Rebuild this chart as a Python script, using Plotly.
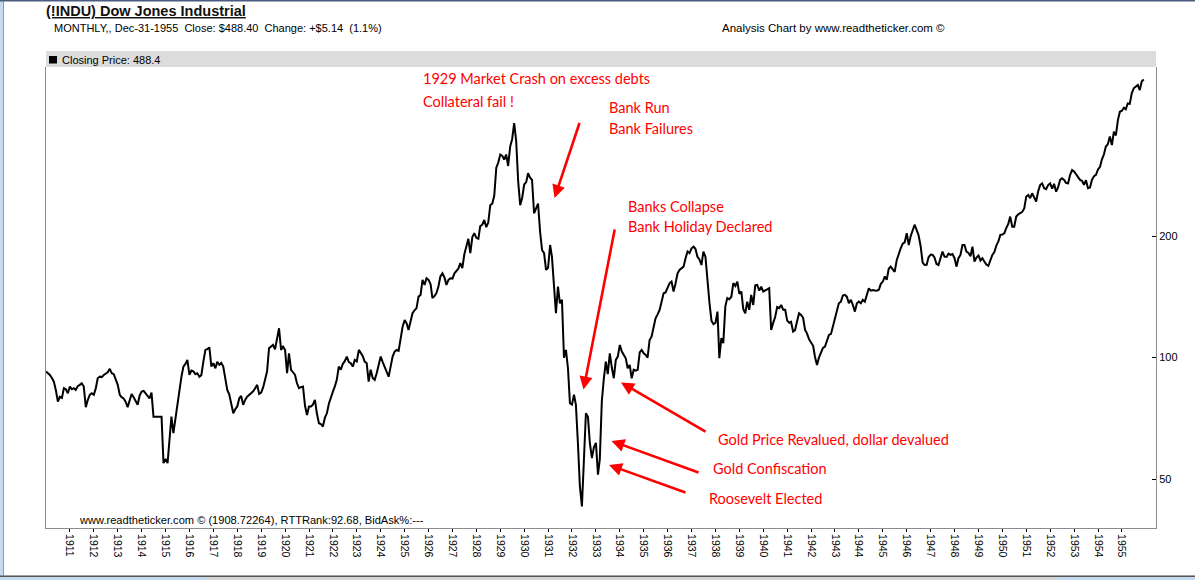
import math
import plotly.graph_objects as go

# ---------------- data: DJIA monthly closes ----------------
y1910 = [92.4, 91.5, 90.6, 89.0, 87.2, 83.0, 77.8, 80.0, 79.5, 84.0, 83.5, 81.6]
y1911 = [84.8, 83.5, 84.0, 83.2, 85.0, 85.6, 86.4, 84.8, 75.4, 78.5, 80.9, 81.6]
y1912 = [80.9, 84.0, 88.9, 89.7, 89.5, 90.6, 91.5, 92.0, 93.8, 91.5, 91.0, 88.5]
y1913 = [85.6, 80.9, 79.8, 79.2, 77.8, 75.4, 78.6, 81.3, 79.8, 78.0, 76.4, 80.5]
y1914 = [82.4, 82.7, 81.5, 80.5, 79.3, 81.9, 71.4, 71.4, 71.4, 71.4, 71.4, 54.8]
y1915 = [56.1, 54.8, 61.0, 71.4, 65.0, 71.0, 77.1, 84.0, 89.7, 95.0, 96.5, 98.7]
y1916 = [90.6, 92.9, 92.5, 91.0, 91.5, 89.7, 90.5, 97.7, 104.5, 105.0, 106.0, 95.0]
y1917 = [96.9, 94.1, 97.7, 96.0, 97.0, 95.0, 89.7, 83.2, 81.0, 76.5, 72.8, 74.5]
y1918 = [75.7, 79.3, 80.4, 76.4, 78.6, 80.0, 80.9, 81.5, 82.5, 84.0, 85.6, 81.3]
y1919 = [81.9, 84.5, 88.5, 92.4, 105.5, 106.5, 107.5, 104.9, 111.0, 118.2, 104.5, 106.5]
y1920 = [104.5, 91.5, 102.5, 93.3, 92.0, 90.6, 86.4, 84.0, 84.5, 84.8, 76.0, 72.1]
y1921 = [75.7, 75.7, 76.5, 78.6, 72.8, 68.8, 68.5, 67.5, 71.0, 72.8, 77.0, 80.0]
y1922 = [82.4, 85.0, 88.1, 95.0, 93.3, 96.5, 98.0, 100.6, 97.5, 96.9, 95.0, 98.7]
y1923 = [97.8, 104.5, 103.0, 101.0, 97.8, 96.9, 87.2, 93.3, 89.0, 88.1, 91.5, 95.5]
y1924 = [100.6, 97.5, 95.0, 92.0, 89.7, 95.0, 100.6, 103.5, 104.5, 104.0, 112.0, 119.3]
y1925 = [123.9, 121.5, 117.1, 122.0, 128.8, 131.0, 132.6, 141.6, 143.0, 155.8, 151.4, 157.3]
y1926 = [155.8, 152.0, 140.4, 142.0, 144.4, 150.0, 158.9, 161.7, 158.0, 151.4, 155.8, 157.3]
y1927 = [157.0, 161.7, 163.3, 166.0, 171.4, 166.5, 180.0, 188.2, 196.9, 181.4, 198.8, 203.4]
y1928 = [198.0, 196.9, 211.7, 213.4, 219.2, 210.4, 216.0, 238.5, 240.6, 252.0, 295.5, 304.1]
y1929 = [318.4, 316.0, 309.4, 318.4, 298.3, 333.2, 347.5, 380.7, 343.5, 273.5, 238.5, 248.5]
y1930 = [268.3, 272.0, 286.2, 279.0, 275.5, 227.8, 234.0, 240.6, 205.0, 184.7, 181.4, 164.9]
y1931 = [167.0, 190.1, 177.8, 146.9, 128.8, 149.9, 136.3, 139.1, 100.0, 104.5, 94.0, 77.1]
y1932 = [76.5, 80.9, 76.4, 61.3, 48.0, 42.8, 55.0, 72.8, 71.4, 61.3, 56.4, 60.0]
y1933 = [61.5, 51.3, 56.0, 78.0, 88.5, 97.7, 91.0, 102.5, 94.5, 88.9, 98.7, 100.6]
y1934 = [107.5, 103.5, 101.6, 99.7, 94.1, 95.9, 88.9, 93.3, 92.8, 93.3, 103.0, 104.5]
y1935 = [102.5, 101.6, 100.0, 110.6, 112.7, 118.0, 125.2, 128.0, 131.3, 137.6, 144.4, 145.0]
y1936 = [149.5, 152.9, 154.3, 145.8, 152.6, 161.7, 164.9, 166.5, 168.0, 176.3, 183.1, 181.4]
y1937 = [186.5, 188.2, 186.0, 177.8, 175.0, 169.6, 183.1, 177.8, 152.0, 137.0, 123.5, 121.0]
y1938 = [121.9, 130.0, 99.7, 111.7, 108.6, 134.0, 140.4, 139.5, 141.5, 152.9, 150.5, 154.3]
y1939 = [143.8, 145.8, 132.0, 128.8, 137.6, 131.3, 143.0, 135.0, 151.0, 151.4, 146.5, 149.9]
y1940 = [145.8, 147.0, 147.5, 148.5, 117.1, 121.9, 126.1, 133.5, 132.6, 135.0, 131.3, 131.3]
y1941 = [123.5, 122.0, 122.7, 116.0, 117.0, 123.1, 128.8, 127.6, 125.5, 117.1, 114.7, 111.0]
y1942 = [109.1, 107.0, 100.5, 95.9, 100.0, 103.5, 105.7, 106.5, 110.0, 113.8, 114.5, 119.4]
y1943 = [126.3, 131.0, 136.3, 137.6, 142.5, 143.0, 141.6, 136.3, 139.0, 135.0, 130.0, 136.3]
y1944 = [137.6, 136.3, 139.0, 137.6, 142.2, 148.5, 146.5, 147.0, 146.7, 146.5, 147.3, 152.3]
y1945 = [154.3, 158.9, 155.8, 166.0, 168.0, 165.0, 163.0, 174.3, 181.4, 186.6, 191.5, 193.0]
y1946 = [203.4, 190.1, 199.6, 206.8, 213.4, 207.1, 201.0, 189.0, 172.0, 169.6, 169.8, 177.2]
y1947 = [180.0, 179.6, 177.0, 170.6, 169.6, 176.3, 183.1, 177.8, 177.5, 181.0, 179.6, 180.5]
y1948 = [176.3, 168.0, 176.3, 179.6, 190.1, 190.1, 183.1, 181.7, 178.3, 188.2, 172.9, 177.0]
y1949 = [179.0, 174.0, 176.3, 173.0, 170.0, 168.8, 174.3, 179.6, 182.5, 189.5, 194.0, 201.4]
y1950 = [201.8, 203.4, 209.3, 214.3, 223.5, 211.0, 211.0, 223.5, 226.4, 227.8, 229.6, 234.2]
y1951 = [250.6, 252.9, 248.3, 255.3, 250.0, 243.6, 257.9, 267.5, 270.0, 262.8, 261.3, 267.5]
y1952 = [270.0, 262.0, 269.5, 257.6, 264.0, 275.5, 278.0, 275.5, 270.6, 270.0, 283.5, 291.5]
y1953 = [289.0, 284.0, 279.0, 275.5, 274.0, 268.0, 275.0, 262.8, 264.0, 275.8, 281.4, 283.5]
y1954 = [292.4, 297.0, 309.4, 318.4, 333.2, 338.0, 353.0, 336.2, 362.8, 355.0, 387.4, 406.4]
y1955 = [408.8, 415.9, 412.0, 426.1, 425.0, 451.4, 464.4, 468.8, 473.6, 459.7, 483.3, 488.4]

yearly = [y1910, y1911, y1912, y1913, y1914, y1915, y1916, y1917, y1918, y1919,
          y1920, y1921, y1922, y1923, y1924, y1925, y1926, y1927, y1928, y1929,
          y1930, y1931, y1932, y1933, y1934, y1935, y1936, y1937, y1938, y1939,
          y1940, y1941, y1942, y1943, y1944, y1945, y1946, y1947, y1948, y1949,
          y1950, y1951, y1952, y1953, y1954, y1955]
first_year = 1910

dates = []
closes = []
for k, vals in enumerate(yearly):
    for m, v in enumerate(vals):
        dates.append(f"{first_year + k}-{m + 1:02d}-01")
        closes.append(v)

tick_years = list(range(1911, 1956))
tick_vals = [f"{y}-01-01" for y in tick_years]
tick_text = [str(y) for y in tick_years]
y_ticks = [50, 100, 200]

# ---------------- layout geometry (pixels) ----------------
W, H = 1195, 580
L, R, T, B = 46, 39, 67, 52
PW, PH = W - L - R, H - T - B


def px(x):
    return (x - L) / PW


def py(y):
    return (H - B - y) / PH


SMALL = "Liberation Sans, Arial, sans-serif"
NOTE = "Lato, Open Sans, sans-serif"
RED = "#ff0000"

fig = go.Figure()
fig.add_trace(go.Scatter(x=dates, y=closes, mode="lines",
                         line=dict(color="#000000", width=2),
                         hoverinfo="x+y", showlegend=False))

fig.update_layout(
    width=W, height=H,
    margin=dict(l=L, r=R, t=T, b=B, pad=0),
    paper_bgcolor="white", plot_bgcolor="white",
    showlegend=False,
    xaxis=dict(
        type="date",
        range=["1910-01-01", "1956-06-05"],
        tickmode="array", tickvals=tick_vals, ticktext=tick_text,
        tickangle=90,
        ticks="outside", ticklen=3, tickcolor="#000000", tickwidth=1,
        tickfont=dict(family=SMALL, size=10.5, color="#000000"),
        showgrid=False, zeroline=False,
        showline=True, linecolor="#8c8c8c", linewidth=1,
    ),
    yaxis=dict(
        type="log",
        range=[math.log10(37.85), math.log10(524.5)],
        side="right",
        tickmode="array", tickvals=y_ticks, ticktext=[str(v) for v in y_ticks],
        ticks="inside", ticklen=4, tickcolor="#000000", tickwidth=1,
        tickfont=dict(family=SMALL, size=11, color="#000000"),
        showgrid=False, zeroline=False,
        showline=True, linecolor="#8c8c8c", linewidth=1, mirror=True,
    ),
)

shapes = [
    # grey legend strip above the plot
    dict(type="rect", xref="paper", yref="paper", x0=0, x1=1, y0=py(67), y1=py(51),
         fillcolor="#dcdcdc", line=dict(width=0), layer="below"),
    # black legend square
    dict(type="rect", xref="paper", yref="paper", x0=px(49), x1=px(57), y0=py(63.5), y1=py(56),
         fillcolor="#000000", line=dict(width=0)),
    # window chrome: left strip, top line, bottom bar
    dict(type="rect", xref="paper", yref="paper", x0=px(0), x1=px(4), y0=py(580), y1=py(0),
         fillcolor="#c5d9f1", line=dict(width=0)),
    dict(type="rect", xref="paper", yref="paper", x0=px(3), x1=px(4), y0=py(576), y1=py(0),
         fillcolor="#8899b0", line=dict(width=0)),
    dict(type="rect", xref="paper", yref="paper", x0=px(0), x1=px(1195), y0=py(1.5), y1=py(0),
         fillcolor="#4a5d80", line=dict(width=0)),
    dict(type="rect", xref="paper", yref="paper", x0=px(0), x1=px(1195), y0=py(580), y1=py(575.5),
         fillcolor="#c5d9f1", line=dict(width=0)),
    dict(type="rect", xref="paper", yref="paper", x0=px(206), x1=px(1057), y0=py(580), y1=py(577),
         fillcolor="#d4d4d4", line=dict(width=0)),
    dict(type="rect", xref="paper", yref="paper", x0=px(0), x1=px(1195), y0=py(577), y1=py(575.5),
         fillcolor="#555555", line=dict(width=0)),
]
fig.update_layout(shapes=shapes)

ann = []


def text(x, y, s, size=11, family=SMALL, color="#000000"):
    ann.append(dict(xref="paper", yref="paper", x=px(x), y=py(y), text=s,
                    showarrow=False, xanchor="left", yanchor="middle",
                    font=dict(family=family, size=size, color=color)))


text(44, 11.5, "<b><u>(!INDU) Dow Jones Industrial</u></b>", size=14.5, color="#111111")
text(52, 28, "MONTHLY,, Dec-31-1955\u00a0\u00a0Close: $488.40\u00a0\u00a0Change: +$5.14\u00a0\u00a0(1.1%)")
text(720, 28, "Analysis Chart by www.readtheticker.com ©", size=11.5)
text(60, 59.5, "Closing Price: 488.4")
text(77, 520, "www.readtheticker.com © (1908.72264), RTTRank:92.68, BidAsk%:---", size=11.1)

notes = [
    (421, 79, "1929 Market Crash on excess debts"),
    (421, 101, "Collateral fail !"),
    (607, 108, "Bank Run"),
    (607, 128, "Bank Failures"),
    (626, 206, "Banks Collapse"),
    (626, 226, "Bank Holiday Declared"),
    (716, 439, "Gold Price Revalued, dollar devalued"),
    (711, 468, "Gold Confiscation"),
    (707, 498, "Roosevelt Elected"),
]
for x, y, s in notes:
    text(x, y, s, size=14.5, family=NOTE, color=RED)

arrows = [
    ((554.5, 198), (580, 121.5)),
    ((583.5, 389.5), (615, 228)),
    ((621, 382.5), (707, 432.5)),
    ((611.5, 441), (700, 473)),
    ((609, 465), (687, 493)),
]
for (tx, ty), (sx, sy) in arrows:
    ann.append(dict(xref="paper", yref="paper", x=px(tx), y=py(ty), text="",
                    showarrow=True, arrowhead=2, arrowsize=1.0, arrowwidth=2.6,
                    arrowcolor=RED, ax=sx - tx, ay=sy - ty, standoff=0))

fig.update_layout(annotations=ann)

fig.write_html("out.html")
